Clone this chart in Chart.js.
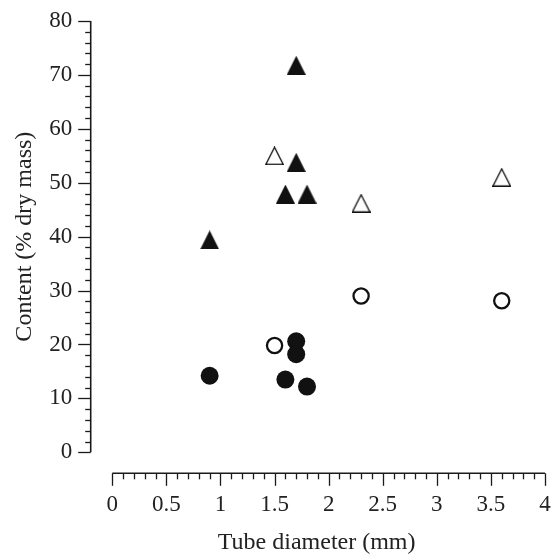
<!DOCTYPE html>
<html>
<head>
<meta charset="utf-8">
<script src="https://cdn.jsdelivr.net/npm/chart.js@4"></script>
<style>
  html, body { margin: 0; padding: 0; background: #fff; }
  #wrap { width: 555px; height: 557px; }
</style>
</head>
<body>
<div id="wrap"><canvas id="c" width="555" height="557"></canvas></div>
<script>
// ---- Data ----
const filledTriangleX = [0.9, 1.7, 1.7, 1.6, 1.8];
const filledTriangleY = [39.4, 71.8, 53.8, 47.9, 47.9];
const openTriangleX = [1.5, 2.3, 3.6];
const openTriangleY = [55.0, 46.2, 51.0];
const filledCircleX = [0.9, 1.7, 1.7, 1.6, 1.8];
const filledCircleY = [14.2, 20.6, 18.2, 13.5, 12.2];
const openCircleX = [1.5, 2.3, 3.6];
const openCircleY = [19.8, 29.0, 28.1];

const xMin = 0, xMax = 4, xMajorStep = 0.5, xMinorStep = 0.1;
const yMin = 0, yMax = 80, yMajorStep = 10, yMinorStep = 2;
const xTitle = 'Tube diameter (mm)';
const yTitle = 'Content (% dry mass)';

const FONT = '"Liberation Serif", "Times New Roman", serif';

function pts(xs, ys) { return xs.map((x, i) => ({ x: x, y: ys[i] })); }

function triangleCanvas(filled) {
  const s = 19;
  const cv = document.createElement('canvas');
  cv.width = s; cv.height = s;
  const g = cv.getContext('2d');
  g.beginPath();
  if (filled) {
    g.moveTo(s / 2, 0);
    g.lineTo(s, s);
    g.lineTo(0, s);
    g.closePath();
    g.fillStyle = '#111';
    g.fill();
  } else {
    g.moveTo(s / 2, 1);
    g.lineTo(s - 0.75, s - 0.75);
    g.lineTo(0.75, s - 0.75);
    g.closePath();
    g.fillStyle = '#fff';
    g.fill();
    g.lineWidth = 1.3;
    g.strokeStyle = '#111';
    g.stroke();
  }
  return cv;
}

// Offset axis lines and tick marks drawn from the library's scales
const offsetAxes = {
  id: 'offsetAxes',
  afterDraw(chart) {
    const ctx = chart.ctx;
    const xs = chart.scales.x, ys = chart.scales.y;
    const ca = chart.chartArea;
    const yLineX = ca.left - 21.6;
    const xLineY = ca.bottom + 21;
    ctx.save();
    ctx.strokeStyle = '#1a1a1a';
    ctx.lineWidth = 1.6;
    ctx.lineCap = 'butt';
    // y axis
    ctx.beginPath();
    ctx.moveTo(yLineX, ys.getPixelForValue(yMax));
    ctx.lineTo(yLineX, ys.getPixelForValue(yMin));
    ctx.stroke();
    ctx.lineWidth = 1.3;
    for (let v = yMin; v <= yMax + 1e-9; v += yMinorStep) {
      const p = Math.round(ys.getPixelForValue(v)) + 0.5;
      const major = Math.abs(v / yMajorStep - Math.round(v / yMajorStep)) < 1e-6;
      const len = major ? 12.5 : 5.5;
      ctx.beginPath();
      ctx.moveTo(yLineX - len, p);
      ctx.lineTo(yLineX, p);
      ctx.stroke();
    }
    // x axis
    ctx.lineWidth = 1.6;
    ctx.beginPath();
    ctx.moveTo(xs.getPixelForValue(xMin), xLineY);
    ctx.lineTo(xs.getPixelForValue(xMax), xLineY);
    ctx.stroke();
    ctx.lineWidth = 1.3;
    for (let i = 0; i <= Math.round((xMax - xMin) / xMinorStep); i++) {
      const v = xMin + i * xMinorStep;
      const p = Math.round(xs.getPixelForValue(v)) + 0.5;
      const major = i % Math.round(xMajorStep / xMinorStep) === 0;
      const len = major ? 12.5 : 6;
      ctx.beginPath();
      ctx.moveTo(p, xLineY);
      ctx.lineTo(p, xLineY + len);
      ctx.stroke();
    }
    ctx.restore();
  }
};

function zeroPad(s) { s.paddingLeft = 0; s.paddingRight = 0; s.paddingTop = 0; s.paddingBottom = 0; }

new Chart(document.getElementById('c'), {
  type: 'scatter',
  data: {
    datasets: [
      { label: 'filled triangles', data: pts(filledTriangleX, filledTriangleY),
        pointStyle: triangleCanvas(true), pointRadius: 9.5 },
      { label: 'open triangles', data: pts(openTriangleX, openTriangleY),
        pointStyle: triangleCanvas(false), pointRadius: 9.5 },
      { label: 'filled circles', data: pts(filledCircleX, filledCircleY),
        pointStyle: 'circle', pointRadius: 9, backgroundColor: '#111', borderColor: '#111', borderWidth: 0 },
      { label: 'open circles', data: pts(openCircleX, openCircleY),
        pointStyle: 'circle', pointRadius: 7.6, backgroundColor: '#fff', borderColor: '#111', borderWidth: 2.3 }
    ]
  },
  options: {
    responsive: false,
    animation: false,
    layout: { autoPadding: false, padding: { top: 21, right: 10, left: 0, bottom: 0 } },
    plugins: { legend: { display: false }, tooltip: { enabled: false } },
    scales: {
      x: {
        type: 'linear', min: xMin, max: xMax,
        grid: { display: false, drawTicks: false },
        border: { display: false },
        ticks: { stepSize: xMajorStep, color: '#222', padding: 39,
                 font: { family: FONT, size: 23 }, maxRotation: 0,
                 callback: (v) => String(v) },
        title: { display: true, text: xTitle + '\u00A0\u00A0\u00A0\u00A0', color: '#222',
                 font: { family: FONT, size: 24 }, padding: { top: 0, bottom: 0 } },
        afterFit(s) { s.height = 557 - 452.3; zeroPad(s); }
      },
      y: {
        type: 'linear', min: yMin, max: yMax,
        grid: { display: false, drawTicks: false },
        border: { display: false },
        ticks: { stepSize: yMajorStep, color: '#222', padding: 40,
                 font: { family: FONT, size: 23 } },
        title: { display: true, text: yTitle, color: '#222',
                 font: { family: FONT, size: 24 }, padding: { top: 10, bottom: 0 } },
        afterFit(s) { s.width = 112.3; zeroPad(s); }
      }
    }
  },
  plugins: [offsetAxes]
});
</script>
</body>
</html>
